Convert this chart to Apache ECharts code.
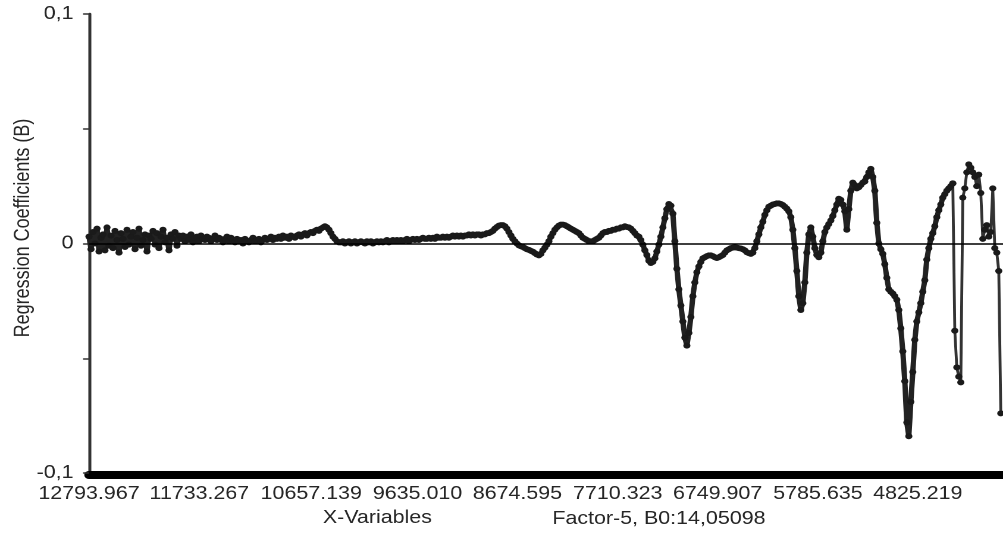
<!DOCTYPE html>
<html>
<head>
<meta charset="utf-8">
<title>Regression Coefficients</title>
<script src="https://cdn.jsdelivr.net/npm/echarts@6/dist/echarts.min.js"></script>
<style>
  html, body { margin: 0; padding: 0; background: #fff; }
  #wrap { width: 1003px; height: 536px; overflow: hidden; }
  /* the plot is laid out on a narrower canvas and widened horizontally */
  #chart { width: 843px; height: 536px; transform: scaleX(1.1898); transform-origin: 0 0; }
</style>
</head>
<body>
<div id="wrap"><div id="chart"></div></div>
<script>
// wavenumber grid of the coefficient vector (cm-1, descending)
const firstWavenumber = 12793.967;
const wavenumberStep = 19.225;
const axisEndWavenumber = 4006;

// x tick labels (wavenumbers)
const xTickLabels = ['12793.967', '11733.267', '10657.139', '9635.010', '8674.595',
                     '7710.323', '6749.907', '5785.635', '4825.219'];
// y tick labels
const yTickValues = [-0.1, 0, 0.1];
const yTickLabels = ['-0,1', '0', '0,1'];

// regression coefficients, high wavenumber end (noisy third overtone region)
const coefHighNoise = [
  0.003, -0.0025, 0.005, 0, 0.0065, -0.0035, 0.0025, 0.004, -0.003, 0.007,
  -0.001, 0.0035, -0.002, 0.0055, 0.0015, -0.004, 0.0045, 0.002, -0.0015, 0.006,
  -0.0005, 0.003, 0.005, -0.0025, 0.0025, 0.0065, -0.001, 0.0015, 0.004, -0.0035,
  0.0035, 0.002, 0.0055, -0.0005, 0.0045, -0.002, 0.003, 0.006, 0.0005, 0.0025,
  -0.003, 0.004, 0.002, 0.005, -0.001, 0.0035
];
const coefHighFlat = [
  0.002, 0.0035, 0.001, 0.003, 0.0015, 0.004, 0.0005, 0.0025, 0.003, 0.001,
  0.0035, 0.002, 0.0015, 0.003, 0.0025, 0.001, 0.002, 0.0035, 0.0015, 0.0025,
  0.002, 0.0005, 0.002, 0.003, 0.001, 0.0025, 0.0015, 0.0005, 0.002, 0.001,
  0.0015, 0, 0.002, 0.001, 0.0005, 0.0015, 0.0025, 0.001, 0.0015, 0.002,
  0.0005, 0.0015, 0.0025, 0.0015, 0.002, 0.003, 0.0015, 0.0025, 0.002, 0.003,
  0.002, 0.0035, 0.0025, 0.003, 0.002, 0.0035, 0.003, 0.0025, 0.0035, 0.004,
  0.003, 0.004, 0.0045, 0.0035, 0.0045, 0.005, 0.0045, 0.0055, 0.006, 0.0055,
  0.0065, 0.007, 0.0075, 0.007, 0.006, 0.0045
];
const coefMidFlat = [
  0.003, 0.002, 0.001, 0.0005, 0.0005, 0.001, 0, 0.0005, 0.001, 0,
  0.0005, 0.001, 0, 0.0005, 0.001, 0.0005, 0, 0.001, 0.0005, 0.001,
  0, 0.0005, 0.001, 0.0005, 0.001, 0.0005, 0.001, 0.0015, 0.0005, 0.001,
  0.0015, 0.001, 0.0015, 0.001, 0.0015, 0.001, 0.0015, 0.002, 0.001, 0.0015,
  0.002, 0.0015, 0.002, 0.0015, 0.002, 0.0025, 0.002, 0.002, 0.0025, 0.002,
  0.0025, 0.002, 0.003, 0.0025, 0.0025, 0.003, 0.0025, 0.003, 0.0025, 0.003,
  0.0035, 0.003, 0.0035, 0.003, 0.0035, 0.003, 0.0035, 0.0035, 0.004, 0.0035,
  0.004, 0.0035, 0.004, 0.004, 0.0035, 0.004, 0.004, 0.0045, 0.0045, 0.005,
  0.0055, 0.0065
];
const coefSecondOvertone = [
  0.0072, 0.0078, 0.008, 0.008, 0.0075, 0.0065, 0.005, 0.0035, 0.002, 0.001,
  0, -0.0008, -0.0012, -0.0015, -0.002, -0.0025, -0.0028, -0.0032, -0.0036, -0.0042,
  -0.0048, -0.0052, -0.0045, -0.003, -0.0018, -0.0005, 0.001, 0.003, 0.0045, 0.006,
  0.007, 0.0078, 0.0082, 0.0082, 0.008, 0.0075, 0.007, 0.0065, 0.006, 0.0055,
  0.005, 0.0045, 0.0035, 0.0025, 0.002, 0.0015, 0.001, 0.001, 0.001, 0.0015,
  0.002, 0.0025, 0.0035, 0.0045, 0.005, 0.005, 0.0055, 0.0055, 0.006, 0.006,
  0.0065, 0.0065, 0.007, 0.007, 0.0075, 0.0072
];
const coefFirstOvertone = [
  0.007, 0.0065, 0.0055, 0.0045, 0.0035, 0.003, 0.0015, -0.0005, -0.003, -0.005,
  -0.0075, -0.0085, -0.008, -0.0065, -0.0035, -0.0005, 0.003, 0.007, 0.011, 0.015,
  0.0172, 0.0165, 0.013, 0.001, -0.011, -0.02, -0.027, -0.034, -0.041, -0.0445,
  -0.039, -0.032, -0.023, -0.017, -0.0125, -0.01, -0.008, -0.0065, -0.006, -0.0055,
  -0.0052, -0.0052, -0.0055, -0.006, -0.0063, -0.006, -0.0055, -0.005, -0.004, -0.003,
  -0.0025, -0.002, -0.0018, -0.0017, -0.0018, -0.002, -0.0022, -0.0025, -0.003, -0.0038,
  -0.0042, -0.0045, -0.004
];
const coefCombination = [
  -0.002, 0.001, 0.004, 0.007, 0.0095, 0.0125, 0.0145, 0.016, 0.0165, 0.017,
  0.0172, 0.0175, 0.0175, 0.0172, 0.0168, 0.016, 0.0152, 0.014, 0.0115, 0.006,
  -0.002, -0.012, -0.023, -0.029, -0.026, -0.017, -0.004, 0.004, 0.007, 0.003,
  -0.002, -0.005, -0.006, -0.004, 0.001, 0.005, 0.007, 0.0085, 0.01, 0.012,
  0.0145, 0.017, 0.0195, 0.019, 0.017, 0.014, 0.006, 0.015, 0.023, 0.0265,
  0.0255, 0.024, 0.0245, 0.0255, 0.0265, 0.027, 0.029, 0.031, 0.0325, 0.029,
  0.023, 0.009, 0
];
const coefLowEnd = [
  -0.0025, -0.0045, -0.009, -0.015, -0.02, -0.021, -0.0218, -0.023, -0.0245, -0.029,
  -0.037, -0.047, -0.06, -0.078, -0.084, -0.069, -0.056, -0.042, -0.034, -0.03,
  -0.026, -0.021, -0.016, -0.007, -0.002, 0.002, 0.0045, 0.0075, 0.0115, 0.0145,
  0.017, 0.02, 0.0215, 0.023, 0.024, 0.025, 0.0262
];
// last, sharply varying stretch (markers on a thinner connecting line)
const coefEdge = [
  -0.038, -0.054, -0.058, -0.0605, 0.02, 0.024, 0.031, 0.0345, 0.033, 0.031,
  0.029, 0.025, 0.03, 0.022, 0.002, 0.006, 0.008, 0.003, 0.005, 0.024,
  -0.002, -0.004, -0.012, -0.074
];

const denseCoefs = [].concat(coefHighNoise, coefHighFlat, coefMidFlat,
  coefSecondOvertone, coefFirstOvertone, coefCombination, coefLowEnd);
const toPoint = (v, i) => [firstWavenumber - i * wavenumberStep, v];
const denseData = denseCoefs.map(toPoint);
const lastDense = denseCoefs.length - 1;
const edgeData = [denseCoefs[lastDense]].concat(coefEdge)
  .map((v, k) => toPoint(v, lastDense + k));

const font = 'Liberation Sans, Arial, sans-serif';
const textColor = '#262626';

const chart = echarts.init(document.getElementById('chart'), null, {
  renderer: 'canvas', devicePixelRatio: 2
});

chart.setOption({
  animation: false,
  backgroundColor: '#fff',
  grid: { left: 74.8, right: 0, top: 14, bottom: 63 },
  xAxis: {
    type: 'value',
    inverse: true,
    min: axisEndWavenumber,
    max: firstWavenumber,
    offset: 2,
    axisLine: { show: true, onZero: false, lineStyle: { color: '#000', width: 8 } },
    axisTick: { show: false },
    splitLine: { show: false },
    axisLabel: {
      customValues: xTickLabels.map(Number),
      formatter: v => {
        const hit = xTickLabels.find(s => Math.abs(Number(s) - v) < 1e-6);
        return hit || '';
      },
      margin: 10,
      fontSize: 18,
      fontFamily: font,
      color: textColor
    }
  },
  yAxis: {
    type: 'value',
    min: -0.1,
    max: 0.1,
    interval: 0.05,
    axisLine: { show: true, lineStyle: { color: '#333', width: 2.5 } },
    axisTick: { show: true, length: 5, lineStyle: { color: '#333', width: 1.5 } },
    splitLine: { show: false },
    axisLabel: {
      formatter: v => {
        const k = yTickValues.findIndex(t => Math.abs(t - v) < 1e-9);
        return k >= 0 ? yTickLabels[k] : '';
      },
      margin: 13,
      fontSize: 18,
      fontFamily: font,
      color: textColor
    }
  },
  series: [{
    type: 'line',
    data: denseData,
    showAllSymbol: true,
    symbol: 'circle',
    symbolSize: 6,
    itemStyle: { color: '#1a1a1a' },
    lineStyle: { color: '#222', width: 4.5, join: 'round', cap: 'round' },
    markLine: {
      silent: true,
      symbol: 'none',
      label: { show: false },
      lineStyle: { color: '#000', width: 1.5, type: 'solid' },
      data: [{ yAxis: 0 }]
    }
  }, {
    type: 'line',
    data: edgeData,
    showAllSymbol: true,
    symbol: 'circle',
    symbolSize: 6,
    itemStyle: { color: '#1a1a1a' },
    lineStyle: { color: '#333', width: 2.4, join: 'round' }
  }],
  graphic: [
    {
      type: 'text', x: 19.7, y: 228, rotation: Math.PI / 2,
      style: { text: 'Regression Coefficients (B)', font: '18px ' + font, fill: textColor,
               align: 'center', verticalAlign: 'middle', textAlign: 'center', textVerticalAlign: 'middle' }
    },
    {
      type: 'text', x: 317.2, y: 518,
      style: { text: 'X-Variables', font: '18px ' + font, fill: textColor,
               align: 'center', verticalAlign: 'middle', textAlign: 'center', textVerticalAlign: 'middle' }
    },
    {
      type: 'text', x: 553.8, y: 519,
      style: { text: 'Factor-5, B0:14,05098', font: '18px ' + font, fill: textColor,
               align: 'center', verticalAlign: 'middle', textAlign: 'center', textVerticalAlign: 'middle' }
    }
  ]
});
</script>
</body>
</html>
